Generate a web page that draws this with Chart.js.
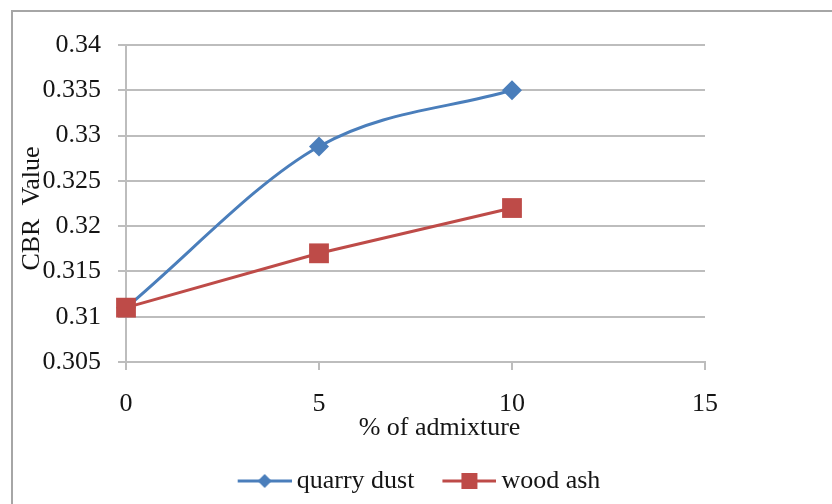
<!DOCTYPE html>
<html>
<head>
<meta charset="utf-8">
<script src="https://cdn.jsdelivr.net/npm/chart.js@4/dist/chart.umd.min.js"></script>
<style>
  html, body { margin: 0; padding: 0; background: #ffffff; }
  #wrap { position: relative; width: 832px; height: 504px; overflow: hidden; }
  #frame { position: absolute; left: 11px; top: 10px; width: 840px; height: 520px;
           border-top: 2px solid #a6a6a6; border-left: 2px solid #a6a6a6; }
  #cbr { position: absolute; left: 0; top: 0; }
</style>
</head>
<body>
<div id="wrap">
  <div id="frame"></div>
  <canvas id="cbr" width="832" height="504"></canvas>
</div>
<script>
// Admixture percentages and measured CBR values
const admixture = [0, 5, 10];
const quarryDust = [0.311, 0.3288, 0.335];
const woodAsh = [0.311, 0.317, 0.322];

// Axis ticks
const xTicks = [0, 5, 10, 15];
const yTicks = [0.305, 0.31, 0.315, 0.32, 0.325, 0.33, 0.335, 0.34];

// Axis titles
const xTitle = '% of admixture';
const yTitle = 'CBR  Value';

const FONT_FAMILY = "'Liberation Serif', 'Times New Roman', serif";
const FONT_SIZE = 26;
const TEXT_COLOR = '#151515';
const GRID_COLOR = '#bdbdbd';
const BLUE = '#4a7ebb';
const RED = '#be4b48';

// Legend swatch: a short line with the series marker on it
function makeSwatch(color, marker) {
  const c = document.createElement('canvas');
  c.width = 80; c.height = 26;
  const g = c.getContext('2d');
  g.strokeStyle = color;
  g.lineWidth = 3;
  g.beginPath();
  g.moveTo(26, 13);
  g.lineTo(80, 13);
  g.stroke();
  g.fillStyle = color;
  const cx = 53, cy = 13;
  if (marker === 'diamond') {
    g.beginPath();
    g.moveTo(cx, cy - 7);
    g.lineTo(cx + 7, cy);
    g.lineTo(cx, cy + 7);
    g.lineTo(cx - 7, cy);
    g.closePath();
    g.fill();
  } else {
    g.fillRect(cx - 8, cy - 8, 16, 16);
  }
  return c;
}

const swatches = [makeSwatch(BLUE, 'diamond'), makeSwatch(RED, 'square')];

// Axis titles, placed relative to the plot area
const axisTitles = {
  id: 'axisTitles',
  afterDraw(chart) {
    const { ctx, chartArea } = chart;
    ctx.save();
    ctx.font = FONT_SIZE + 'px ' + FONT_FAMILY;
    ctx.fillStyle = TEXT_COLOR;
    ctx.textAlign = 'center';
    ctx.textBaseline = 'middle';
    const cx = (chartArea.left + chartArea.right) / 2;
    ctx.fillText(xTitle, cx + 24, chartArea.bottom + 66);
    const cy = (chartArea.top + chartArea.bottom) / 2;
    ctx.translate(chartArea.left - 94, cy + 5);
    ctx.rotate(-Math.PI / 2);
    ctx.fillText(yTitle, 0, 0);
    ctx.restore();
  }
};

const toPoints = (xs, ys) => xs.map((x, i) => ({ x: x, y: ys[i] }));
const textFont = { family: FONT_FAMILY, size: FONT_SIZE };

new Chart(document.getElementById('cbr'), {
  type: 'line',
  data: {
    datasets: [
      {
        label: 'quarry dust',
        data: toPoints(admixture, quarryDust),
        borderColor: BLUE,
        backgroundColor: BLUE,
        borderWidth: 3,
        cubicInterpolationMode: 'monotone',
        pointStyle: 'rectRot',
        pointRadius: 10,
        pointBorderWidth: 0,
        clip: false,
        order: 1
      },
      {
        label: 'wood ash',
        data: toPoints(admixture, woodAsh),
        borderColor: RED,
        backgroundColor: RED,
        borderWidth: 3,
        tension: 0,
        pointStyle: 'rect',
        pointRadius: 14,
        pointBorderWidth: 0,
        clip: false,
        order: 0
      }
    ]
  },
  plugins: [axisTitles],
  options: {
    responsive: false,
    animation: false,
    events: [],
    layout: { padding: { left: 0, top: 45, right: 12, bottom: 0 } },
    plugins: {
      tooltip: { enabled: false },
      legend: {
        position: 'bottom',
        labels: {
          usePointStyle: true,
          pointStyleWidth: 64,
          padding: 10,
          color: TEXT_COLOR,
          font: textFont,
          generateLabels(chart) {
            return chart.data.datasets.map((ds, i) => ({
              text: ds.label,
              fillStyle: ds.backgroundColor,
              strokeStyle: ds.borderColor,
              lineWidth: 0,
              pointStyle: swatches[i],
              fontColor: TEXT_COLOR,
              hidden: false,
              datasetIndex: i
            }));
          }
        }
      }
    },
    scales: {
      x: {
        type: 'linear',
        min: 0,
        max: 15,
        afterBuildTicks: s => { s.ticks = xTicks.map(v => ({ value: v })); },
        afterFit: s => { s.height = 96; },
        grid: { drawOnChartArea: false, drawTicks: true, tickLength: 8, color: GRID_COLOR, lineWidth: 2 },
        border: { color: GRID_COLOR, width: 2 },
        ticks: {
          padding: 19, maxRotation: 0, color: TEXT_COLOR, font: textFont,
          callback: v => String(v)
        },
        title: { display: false }
      },
      y: {
        type: 'linear',
        min: 0.305,
        max: 0.34,
        afterBuildTicks: s => { s.ticks = yTicks.map(v => ({ value: v })); },
        afterFit: s => { s.width = 126; },
        grid: { color: GRID_COLOR, lineWidth: 2, tickLength: 8 },
        border: { color: GRID_COLOR, width: 2 },
        ticks: {
          padding: 17, color: TEXT_COLOR, font: textFont,
          callback: v => String(Number(v.toFixed(3)))
        },
        title: { display: false }
      },
      // empty margin to the right of the plot
      gutter: {
        type: 'linear',
        position: 'right',
        afterFit: s => { s.width = 115; },
        grid: { display: false },
        border: { display: false },
        ticks: { display: false }
      }
    }
  }
});
</script>
</body>
</html>
